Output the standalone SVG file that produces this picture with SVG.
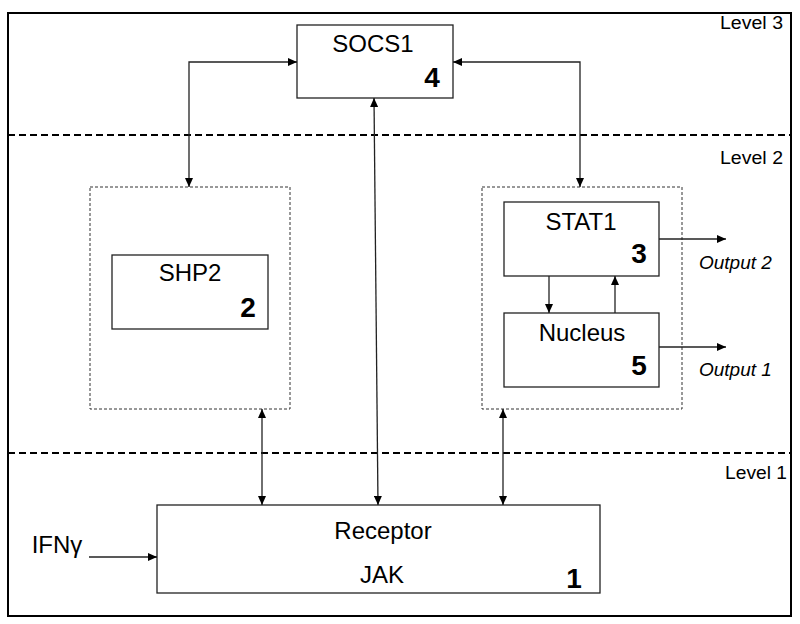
<svg xmlns="http://www.w3.org/2000/svg" width="800" height="624" viewBox="0 0 800 624">
<defs>
<marker id="ah" viewBox="0 0 9 8" refX="9" refY="4" markerWidth="9" markerHeight="8" markerUnits="userSpaceOnUse" orient="auto-start-reverse">
<path d="M0,0 L9,4 L0,8 z" fill="#000"/>
</marker>
<style>
.box{fill:#fff;stroke:#222;stroke-width:1.3}
.grp{fill:none;stroke:#333;stroke-width:1;stroke-dasharray:3,2}
.lvl{fill:none;stroke:#000;stroke-width:2;stroke-dasharray:7,4}
.lbl{font-family:"Liberation Sans",Arial,sans-serif;font-size:24px;text-anchor:middle;fill:#000}
.num{font-family:"Liberation Sans",Arial,sans-serif;font-size:28px;font-weight:bold;text-anchor:middle;fill:#000}
.lv{font-family:"Liberation Sans",Arial,sans-serif;font-size:18px;fill:#000}
.out{font-family:"Liberation Sans",Arial,sans-serif;font-size:19px;font-style:italic;fill:#000}
.c{fill:none;stroke:#222;stroke-width:1.3}
</style>
</defs>
<rect width="800" height="624" fill="#fff"/>
<rect x="8" y="13" width="783" height="603" fill="none" stroke="#000" stroke-width="2"/>
<line class="lvl" x1="8" y1="135" x2="791" y2="135"/>
<line class="lvl" x1="8" y1="453" x2="791" y2="453"/>
<text class="lv" x="720" y="29" textLength="63" lengthAdjust="spacingAndGlyphs">Level 3</text>
<text class="lv" x="720" y="164" textLength="63" lengthAdjust="spacingAndGlyphs">Level 2</text>
<text class="lv" x="725" y="479" textLength="62" lengthAdjust="spacingAndGlyphs">Level 1</text>

<g id="group-shp2"><rect class="grp" x="90" y="187" width="200" height="222"/></g>
<g id="group-stat1"><rect class="grp" x="482" y="187" width="200" height="222"/></g>

<g id="socs1">
<rect class="box" x="297" y="25" width="156" height="73"/>
<text class="lbl" x="373" y="52">SOCS1</text>
<text class="num" x="432" y="87">4</text>
</g>
<g id="shp2">
<rect class="box" x="112" y="255" width="156" height="74"/>
<text class="lbl" x="190" y="281">SHP2</text>
<text class="num" x="248" y="317">2</text>
</g>
<g id="stat1">
<rect class="box" x="504" y="202" width="155" height="74"/>
<text class="lbl" x="581" y="230">STAT1</text>
<text class="num" x="639" y="263">3</text>
</g>
<g id="nucleus">
<rect class="box" x="504" y="313" width="155" height="74"/>
<text class="lbl" x="582" y="341">Nucleus</text>
<text class="num" x="639" y="375">5</text>
</g>
<g id="receptor">
<rect class="box" x="157" y="505" width="443" height="88"/>
<text class="lbl" x="383" y="539">Receptor</text>
<text class="lbl" x="382" y="583">JAK</text>
<text class="num" x="574" y="588">1</text>
</g>
<g id="ifng"><text class="lbl" x="57" y="553">IFNγ</text></g>
<g id="output2"><text class="out" x="699" y="269">Output 2</text></g>
<g id="output1"><text class="out" x="699" y="376">Output 1</text></g>

<g id="connectors">
<polyline class="c" points="297,62 189,62 189,187" marker-start="url(#ah)" marker-end="url(#ah)"/>
<polyline class="c" points="453,62 580,62 580,187" marker-start="url(#ah)" marker-end="url(#ah)"/>
<line class="c" x1="374" y1="98" x2="378" y2="505" marker-start="url(#ah)" marker-end="url(#ah)"/>
<line class="c" x1="262" y1="409" x2="262" y2="505" marker-start="url(#ah)" marker-end="url(#ah)"/>
<line class="c" x1="503" y1="409" x2="503" y2="505" marker-start="url(#ah)" marker-end="url(#ah)"/>
<line class="c" x1="549" y1="276" x2="549" y2="313" marker-end="url(#ah)"/>
<line class="c" x1="615" y1="313" x2="615" y2="276" marker-end="url(#ah)"/>
<line class="c" x1="659" y1="239" x2="726" y2="239" marker-end="url(#ah)"/>
<line class="c" x1="659" y1="347" x2="726" y2="347" marker-end="url(#ah)"/>
<line class="c" x1="89" y1="557" x2="157" y2="557" marker-end="url(#ah)"/>
</g>
</svg>
